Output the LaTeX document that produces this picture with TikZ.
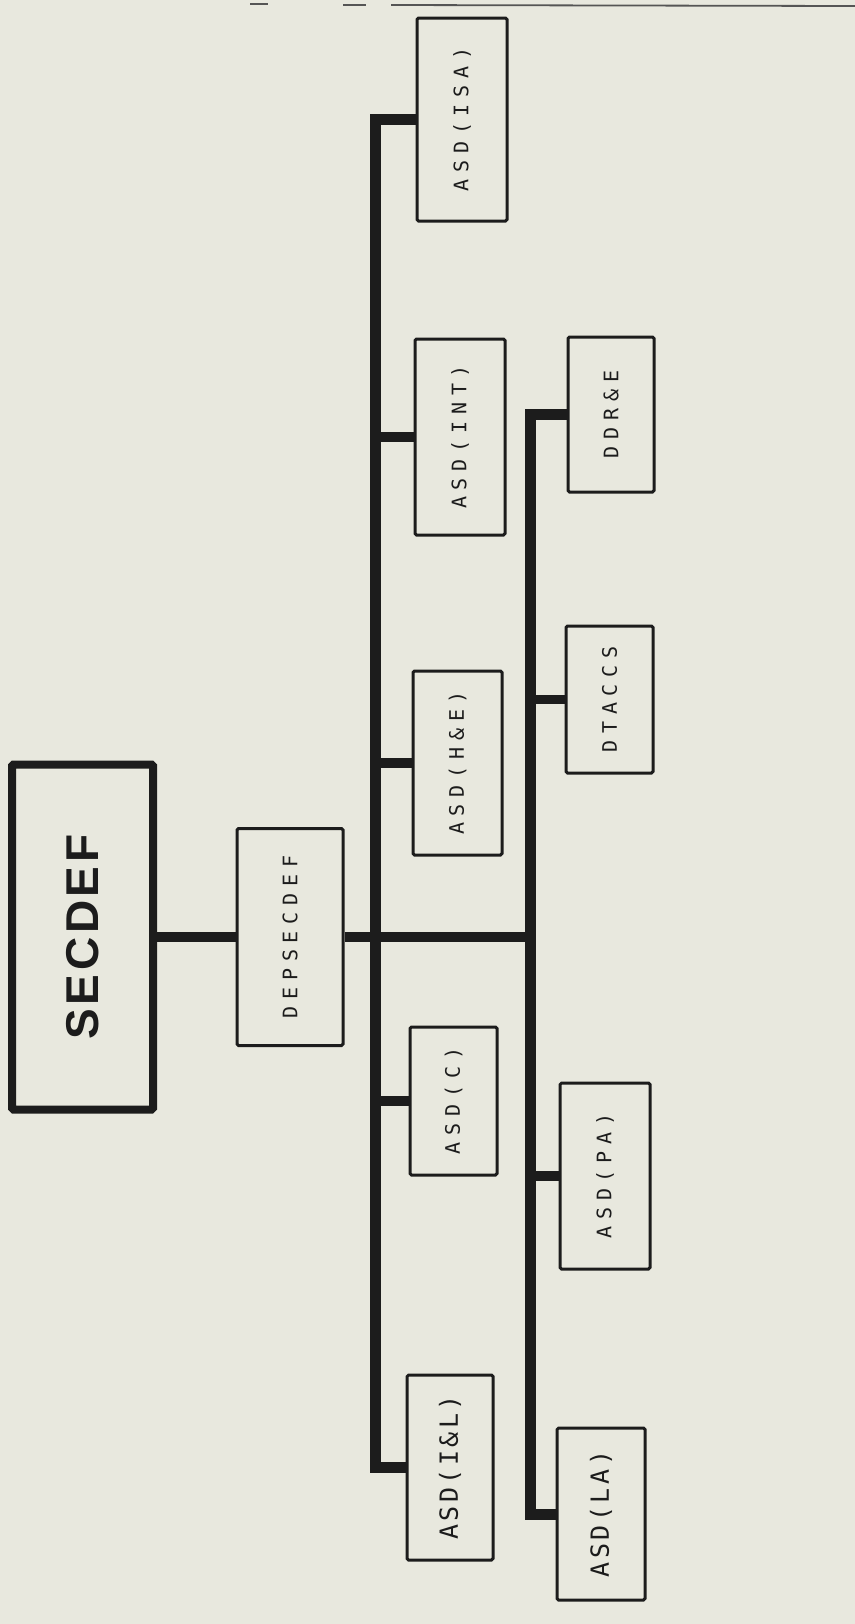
\documentclass[tikz,border=0pt]{standalone}
\usepackage{graphicx}
\usepackage{fontspec}
% typewriter-like lettering for the office boxes
\newfontfamily\boxfont[LetterSpace=34]{DejaVu Sans Mono}
\newfontfamily\boxfontbig[LetterSpace=14]{DejaVu Sans Mono}
\newfontfamily\headfont[LetterSpace=8]{Liberation Sans Bold}
\definecolor{paper}{RGB}{232,232,222}
\definecolor{ink}{RGB}{28,28,28}
\tikzset{
  orgbox/.style={draw=ink, line width=1.5pt, fill=paper, inner sep=0pt, rounded corners=0.8pt},
  headbox/.style={orgbox, line width=4pt},
  trunk/.style={draw=ink, line width=5.5pt},
  branch/.style={draw=ink, line width=4.8pt},
  lbl/.style={font=\boxfont\fontsize{10pt}{12pt}\selectfont, text=ink},
  lblbig/.style={font=\boxfontbig\fontsize{12.5pt}{14pt}\selectfont, text=ink},
  scanline/.style={draw=ink!75, line width=0.9pt}
}
\newcommand{\up}[1]{\rotatebox{90}{#1}}
\begin{document}
\begin{tikzpicture}[x=0.5pt, y=-0.5pt]
  \useasboundingbox (0,0) rectangle (855,1624);
  \fill[paper] (0,0) rectangle (855,1624);

  % ruled edge along the top
  \draw[scanline] (250,4) -- (268,4);
  \draw[scanline] (343,5) -- (366,5);
  \draw[scanline] (391,5) -- (855,6);

  % top of the chart
  \node[headbox, minimum width=70.5pt, minimum height=172.5pt,
        font=\headfont\fontsize{23pt}{26pt}\selectfont, text=ink] (secdef) at (82.5,937) {\up{SECDEF}};
  \node[orgbox, lbl, minimum width=53pt, minimum height=108.5pt] (dep) at (290,937) {\up{DEPSECDEF}};

  % first column of assistant secretaries
  \node[orgbox, lbl, minimum width=45pt, minimum height=101.5pt] (isa) at (462,119.5) {\up{ASD(ISA)}};
  \node[orgbox, lbl, minimum width=45pt, minimum height=98pt] (int) at (460,437) {\up{ASD(INT)}};
  \node[orgbox, lbl, minimum width=44.5pt, minimum height=92pt] (he) at (457.5,763) {\up{ASD(H\&E)}};
  \node[orgbox, lbl, minimum width=43.5pt, minimum height=74pt] (c) at (453.5,1101) {\up{ASD(C)}};
  \node[orgbox, lblbig, minimum width=43pt, minimum height=92.5pt] (il) at (450,1467.5) {\up{ASD(I\&L)}};

  % second column
  \node[orgbox, lbl, minimum width=43pt, minimum height=77.5pt] (ddre) at (611,414.5) {\up{DDR\&E}};
  \node[orgbox, lbl, minimum width=43.5pt, minimum height=73.5pt] (dtaccs) at (609.5,699.5) {\up{DTACCS}};
  \node[orgbox, lbl, minimum width=45pt, minimum height=93pt] (pa) at (605,1176) {\up{ASD(PA)}};
  \node[orgbox, lblbig, minimum width=44pt, minimum height=86pt] (la) at (601,1514) {\up{ASD(LA)}};

  % trunk positions
  \coordinate (L) at (375,0);
  \coordinate (R) at (530,0);

  % connectors
  \draw[branch] (secdef.east) -- (dep.west);
  \draw[branch] (dep.east) -- (dep.east -| R);

  \draw[trunk, line join=miter] (isa.west) -- (isa.west -| L) -- (il.west -| L) -- (il.west);
  \draw[branch] (int.west -| L) -- (int.west);
  \draw[branch] (he.west -| L) -- (he.west);
  \draw[branch] (c.west -| L) -- (c.west);

  \draw[trunk, line join=miter] (ddre.west) -- (ddre.west -| R) -- (la.west -| R) -- (la.west);
  \draw[branch] (dtaccs.west -| R) -- (dtaccs.west);
  \draw[branch] (pa.west -| R) -- (pa.west);
\end{tikzpicture}
\end{document}
